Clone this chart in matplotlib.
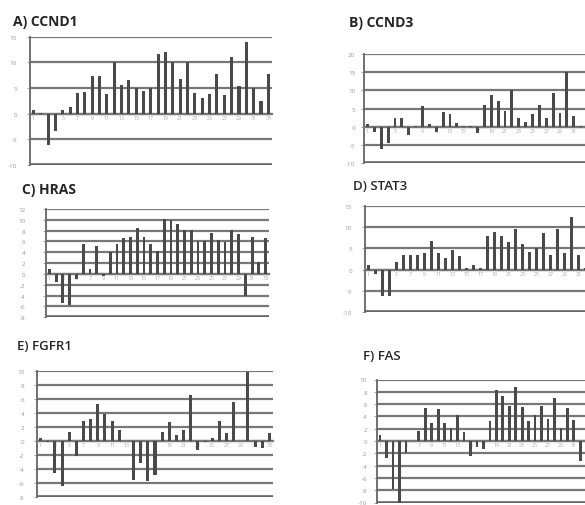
import numpy as np
import matplotlib
matplotlib.use("Agg")
import matplotlib.pyplot as plt

# fold-change per sample, 33 samples per gene
samples = list(range(1, 34))

ccnd1 = [0.7, 0.1, -6.2, -3.4, 0.7, 1.3, 4.1, 4.2, 7.3, 7.3, 3.9, 10.0, 5.6, 6.5, 5.0, 4.5, 5.0,
         11.6, 12.0, 10.0, 6.7, 10.0, 4.1, 3.1, 3.9, 7.8, 3.6, 11.0, 5.4, 14.0, 5.0, 2.4, 7.7]
ccnd3 = [0.6, -1.6, -6.2, -4.5, 2.3, 2.3, -2.3, 0.1, 5.6, 0.6, -1.4, 4.1, 3.4, 1.1, 0.1, 0.1, -1.8,
         6.1, 8.8, 7.1, 4.4, 10.0, 2.3, 1.4, 3.5, 5.9, 2.5, 9.4, 3.8, 15.0, 2.9, 0.3, 1.0]
hras = [0.9, -1.5, -5.4, -5.8, -1.0, 5.5, 0.9, 5.2, -0.4, 4.1, 5.5, 6.6, 6.8, 8.5, 6.8, 5.6, 4.2,
        10.2, 10.0, 9.3, 8.2, 8.2, 6.0, 6.0, 7.6, 6.2, 5.9, 8.2, 7.3, -4.0, 6.8, 2.3, 6.6]
stat3 = [1.2, -1.0, -6.1, -6.1, 1.9, 3.4, 3.4, 3.4, 3.9, 6.8, 3.8, 2.7, 4.5, 3.3, 0.3, 1.1, 0.3,
         8.0, 8.9, 8.0, 6.6, 9.5, 6.0, 4.1, 5.0, 8.6, 3.4, 9.5, 3.9, 12.3, 3.5, 0.3, 1.0]
fgfr1 = [0.5, -0.2, -4.6, -6.4, 1.3, -2.1, 2.9, 3.2, 5.2, 3.9, 2.9, 1.5, 0.05, -5.6, -3.1, -5.7, -4.9,
         1.3, 2.7, 0.8, 1.5, 6.5, -1.3, -0.2, 0.4, 2.9, 1.2, 5.5, 0.05, 9.8, -0.9, -1.0, 1.2]
fas = [1.05, -2.7, -7.8, -11.0, -2.0, 0.05, 1.6, 5.3, 2.9, 5.2, 3.0, 2.1, 4.3, 1.5, -2.4, -1.0, -1.3,
       3.3, 8.3, 7.3, 5.7, 8.7, 5.6, 3.3, 4.3, 5.7, 3.6, 7.0, 2.1, 5.4, 3.4, -3.2, 1.0]

W, H = 585, 506
fig = plt.figure(figsize=(W / 100, H / 100), dpi=100)
plt.rcParams['font.family'] = ['Open Sans', 'DejaVu Sans']

GRID = '#777777'
BAR = '#4a4a4a'


def px_axes(left, right, top, bottom):
    # pixel box -> figure fraction
    return [left / W, 1 - bottom / H, (right - left) / W, (bottom - top) / H]


def panel(box, values, title, tpos, ylim, ystep, weight='bold', tsize=10,
          last_label=33, ypad=7):
    ax = fig.add_axes(px_axes(*box))
    ax.set_axisbelow(True)
    ax.bar(samples, values, width=0.42, color=BAR, zorder=3)
    ax.set_xlim(0.5, 33.5)
    ax.set_ylim(*ylim)
    yt = np.arange(ylim[0], ylim[1] + 0.01, ystep)
    ax.set_yticks(yt)
    ax.set_yticklabels([f'{v:g}' for v in yt], fontsize=4.5, color='#9a9a9a')
    ax.yaxis.grid(True, color=GRID, linewidth=1.6)
    ax.xaxis.grid(False)
    ax.axhline(ylim[0], color='#666666', lw=2.6, zorder=2)

    # category axis sits on the zero line, like the Excel original
    ax.spines['bottom'].set_position(('data', 0))
    ax.spines['bottom'].set_color(GRID)
    ax.spines['bottom'].set_linewidth(1.6)
    ax.spines['top'].set_visible(False)
    ax.spines['right'].set_visible(False)
    ax.spines['left'].set_color('#666666')
    ax.spines['left'].set_linewidth(1.3)
    xt = [s for s in samples[::2] if s <= last_label]
    ax.set_xticks(xt)
    ax.set_xticklabels([str(s) for s in xt], fontsize=3.8, color='#a8a8a8')
    ax.tick_params(axis='x', length=0, pad=1)
    ax.tick_params(axis='y', length=2, width=0.6, color='#9a9a9a', pad=ypad * 0.72)
    ax.patch.set_alpha(0)

    fig.text(tpos[0] / W, 1 - tpos[1] / H, title, fontsize=tsize, fontweight=weight,
             color='#262626', ha='left', va='center')
    return ax


panel((29.7, 272, 37.7, 166), ccnd1, 'A) CCND1', (13, 22), (-10, 15), 5, ypad=10)
panel((364, 591, 55, 164), ccnd3, 'B) CCND3', (349, 23), (-10, 20), 5,
      last_label=31, ypad=6)
panel((46, 269, 210, 318.3), hras, 'C) HRAS', (22, 190), (-8, 12), 2, ypad=18)
panel((364.8, 596, 206.7, 313.3), stat3, 'D) STAT3', (353, 187), (-10, 15), 5,
      'semibold', 9.5, last_label=31, ypad=10)
panel((37, 273, 371.7, 498.3), fgfr1, 'E) FGFR1', (17, 347), (-8, 10), 2,
      'semibold', 9.5, ypad=10)
panel((376.8, 590, 380.5, 503.5), fas, 'F) FAS', (363, 357), (-10, 10), 2,
      'semibold', 9.5, last_label=31, ypad=7)

fig.savefig('out.png', dpi=100)
